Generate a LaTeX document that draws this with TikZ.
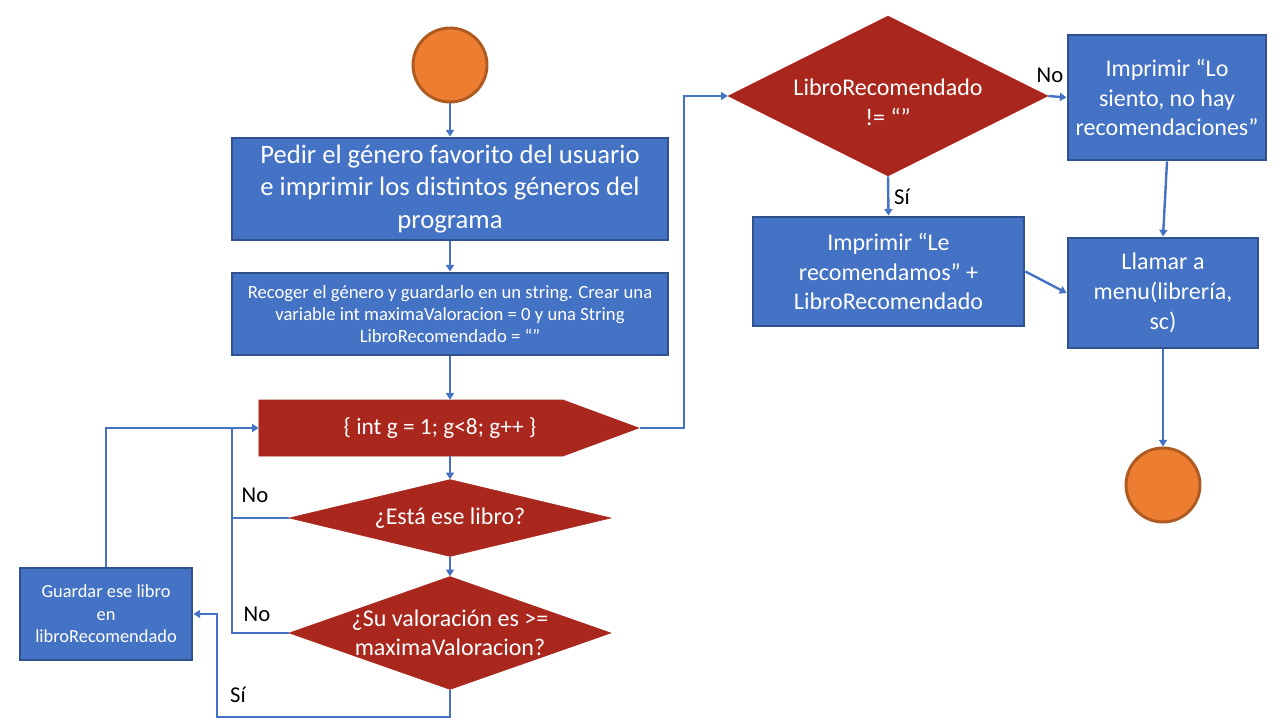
\documentclass[tikz,border=0pt]{standalone}
\usepackage{fontspec}
\setmainfont{Carlito}
\usetikzlibrary{arrows.meta,shapes.geometric,shapes.symbols}
\definecolor{boxblue}{HTML}{4472C4}
\definecolor{boxedge}{HTML}{2F528F}
\definecolor{decred}{HTML}{A9271C}
\definecolor{termorange}{HTML}{ED7D31}
\definecolor{termedge}{HTML}{AE5A21}
\newcommand{\fsz}[2]{\fontsize{#1}{#2}\selectfont}
\tikzset{
  procbox/.style={rectangle,draw=boxedge,fill=boxblue,line width=2.2pt,text=white,align=center,inner sep=2pt},
  decbox/.style={diamond,fill=decred,draw=decred,inner sep=0pt,text=white,align=center},
  loopbox/.style={signal,signal to=east,signal pointer angle=40.5,fill=decred,draw=decred,inner sep=0pt,text=white},
  term/.style={circle,fill=termorange,draw=termedge,line width=2.2pt,minimum size=55.5pt,inner sep=0pt},
  conn/.style={draw=boxblue,line width=1.8pt,-{Triangle[width=6pt,length=5pt]}},
  plainconn/.style={draw=boxblue,line width=1.8pt},
  lbl/.style={text=black,font=\fsz{17}{20}},
  dtext/.style={text=white,align=center}
}
\begin{document}
\begin{tikzpicture}[x=0.75pt,y=-0.75pt]
\useasboundingbox (0,0) rectangle (1280,720);

\node[term] (start) at (450,65) {};
\node[procbox,minimum width=327pt,minimum height=76.5pt,font=\fsz{20}{24.3}] (b1) at (450,189)
  {Pedir el género favorito del usuario\\e imprimir los distintos géneros del\\programa};
\node[procbox,minimum width=327pt,minimum height=61.5pt,font=\fsz{14}{16.5}] (b2) at (450,314)
  {Recoger el género y guardarlo en un string. Crear una\\variable int maximaValoracion = 0 y una String\\LibroRecomendado = “”};
\node[loopbox,minimum width=285pt,minimum height=42pt] (loop) at (411,428) {};
\node[dtext,font=\fsz{17.5}{21}] (looptext) at (440,428) {\{ int g = 1; g<8; g++ \}};
\node[decbox,minimum width=241.5pt,minimum height=57.75pt,label={[dtext,font=\fsz{18}{22}]center:¿Está ese libro?}] (d1) at (450,518) {};
\node[decbox,minimum width=241.5pt,minimum height=84.75pt,label={[dtext,font=\fsz{18}{22}]center:¿Su valoración es >=\\maximaValoracion?}] (d2) at (450,633) {};
\node[procbox,minimum width=129pt,minimum height=69pt,font=\fsz{13.8}{17}] (g) at (106,614)
  {Guardar ese libro\\en\\libroRecomendado};
\node[decbox,minimum width=240pt,minimum height=120pt,label={[dtext,font=\fsz{18}{22.5},yshift=-4.5pt]center:LibroRecomendado\\!= “”}] (d3) at (888,96) {};
\node[procbox,minimum width=148.5pt,minimum height=93.75pt,font=\fsz{18}{22}] (lo) at (1167,97.5)
  {Imprimir “Lo\\siento, no hay\\recomendaciones”};
\node[procbox,minimum width=203.25pt,minimum height=81.75pt,font=\fsz{18}{22}] (rec) at (888.5,271.5)
  {Imprimir “Le\\recomendamos” +\\LibroRecomendado};
\node[procbox,minimum width=142.5pt,minimum height=82.5pt,font=\fsz{18}{22.5}] (ll) at (1163,293)
  {\raisebox{0pt}{Llamar a}\\menu(librería,\\sc)};
\node[term] (end) at (1163,485) {};

\coordinate (j) at (232,428);
\coordinate (k) at (217,717);
\coordinate (m) at (684,428);

\draw[conn] (start) -- (b1);
\draw[conn] (b1) -- (b2);
\draw[conn] (b2.south) -- (b2.south |- loop.north);
\draw[conn] (d1.north |- loop.south) -- (d1.north);
\draw[conn] (d1.south) -- (d2.north);
\draw[conn] (g.north) |- (loop.west);
\draw[plainconn] (d1.west) -| (j);
\draw[plainconn] (d2.west) -| (j);
\draw[conn] (d2.south) |- (k) |- (g.east);
\draw[conn] (loop.east) -- (m) |- (d3.west);
\draw[conn] (d3.east) -- (lo.west);
\draw[conn] (d3.south) -- (rec.north);
\draw[conn] (lo.south) -- (ll.north);
\draw[conn] (rec.east) -- (ll.west);
\draw[conn] (ll.south) -- (end.north);

\node[lbl] (no1) at (255,495) {No};
\node[lbl] (no2) at (257,614) {No};
\node[lbl] (si1) at (238,695) {Sí};
\node[lbl] (no3) at (1050,75) {No};
\node[lbl] (si2) at (902,197) {Sí};
\end{tikzpicture}
\end{document}
